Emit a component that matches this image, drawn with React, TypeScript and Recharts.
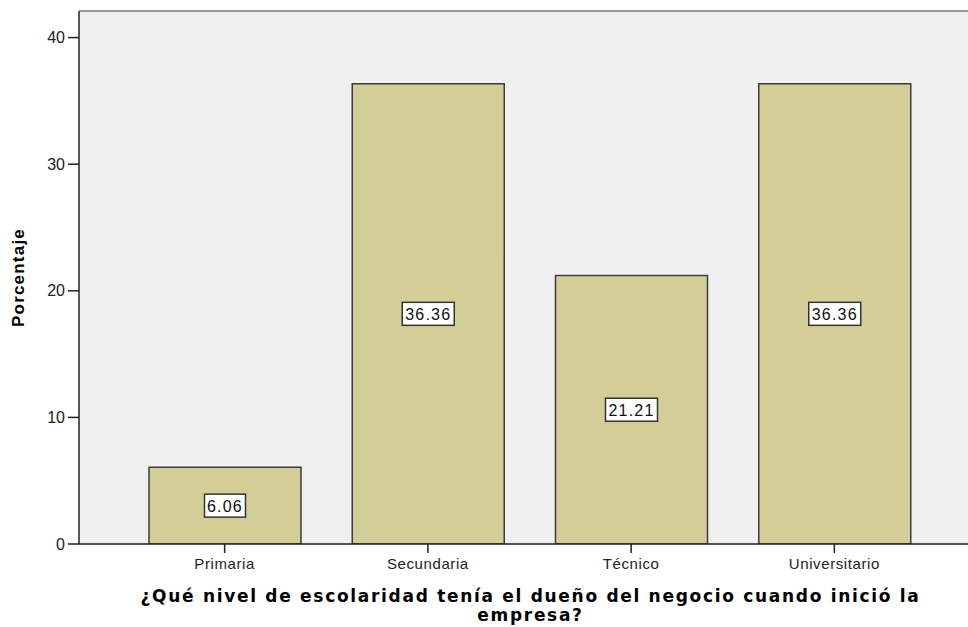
import { BarChart, Bar, XAxis, YAxis, CartesianGrid, ReferenceLine, LabelList, Label } from "recharts";

// Porcentaje por nivel de escolaridad
const niveles = ["Primaria", "Secundaria", "Técnico", "Universitario"];
const porcentajes = [6.06, 36.36, 21.21, 36.36];
const yTicks = [0, 10, 20, 30, 40];
const yMax = 42.1;

const data = niveles.map((nivel, i) => ({ nivel, porcentaje: porcentajes[i] }));

const tickFont = "'Liberation Sans', Arial, sans-serif";

// White boxed value label in the middle of each bar
const ValueBox = (props: any) => {
  const { x, y, width, height, value } = props;
  const text = Number(value).toFixed(2);
  const w = text.length * 11 - 3;
  const h = 23;
  const cx = x + width / 2;
  const cy = y + height / 2;
  return (
    <g>
      <rect x={cx - w / 2} y={cy - h / 2} width={w} height={h} fill="#ffffff" stroke="#333" strokeWidth={1.5} />
      <text
        x={cx}
        y={cy + 6}
        textAnchor="middle"
        fontFamily={tickFont}
        fontSize={16}
        letterSpacing={1.2}
        fill="#111"
      >
        {text}
      </text>
    </g>
  );
};

const XTitle = (props: any) => {
  const { viewBox } = props;
  const cx = viewBox.x + viewBox.width / 2 + 7;
  return (
    <text
      textAnchor="middle"
      fontFamily="'DejaVu Sans', Verdana, sans-serif"
      fontWeight="bold"
      fontSize={17}
      letterSpacing={1.7}
      fill="#000"
    >
      <tspan x={cx} y={602}>¿Qué nivel de escolaridad tenía el dueño del negocio cuando inició la</tspan>
      <tspan x={cx} y={621}>empresa?</tspan>
    </text>
  );
};

const YTitle = (props: any) => {
  const { viewBox } = props;
  const cy = viewBox.y + viewBox.height / 2;
  return (
    <text
      x={24}
      y={cy}
      transform={`rotate(-90, 24, ${cy})`}
      textAnchor="middle"
      fontFamily={tickFont}
      fontWeight="bold"
      fontSize={17}
      letterSpacing={1.2}
      fill="#000"
    >
      Porcentaje
    </text>
  );
};

export default function App() {
  return (
    <div style={{ position: "absolute", left: 0, top: 0, background: "#fff" }}>
      <BarChart
        width={968}
        height={627}
        data={data}
        margin={{ top: 11, right: 0, left: 0, bottom: 0 }}
      >
        <CartesianGrid fill="#f0f0f0" horizontal={false} vertical={false} />
        <XAxis
          dataKey="nivel"
          height={83}
          padding={{ left: 44, right: 32 }}
          axisLine={{ stroke: "#222", strokeWidth: 1.5 }}
          tickLine={{ stroke: "#222", strokeWidth: 1.5 }}
          tickSize={9}
          tickMargin={5}
          tick={{ fontSize: 15, fontFamily: tickFont, fill: "#222", letterSpacing: 0.6 }}
        >
          <Label content={<XTitle />} />
        </XAxis>
        <YAxis
          type="number"
          domain={[0, yMax]}
          ticks={yTicks}
          allowDataOverflow
          width={79}
          axisLine={{ stroke: "#222", strokeWidth: 1.5 }}
          tickLine={{ stroke: "#222", strokeWidth: 1.5 }}
          tickSize={11}
          tickMargin={3}
          tick={{ fontSize: 16, fontFamily: tickFont, fill: "#222" }}
        >
          <Label content={<YTitle />} />
        </YAxis>
        <ReferenceLine y={yMax} stroke="#999" strokeWidth={2} />
        <Bar
          dataKey="porcentaje"
          fill="#d3ce97"
          stroke="#3c3c3c"
          strokeWidth={1.5}
          barSize={152}
          isAnimationActive={false}
        >
          <LabelList dataKey="porcentaje" content={<ValueBox />} />
        </Bar>
      </BarChart>
    </div>
  );
}
